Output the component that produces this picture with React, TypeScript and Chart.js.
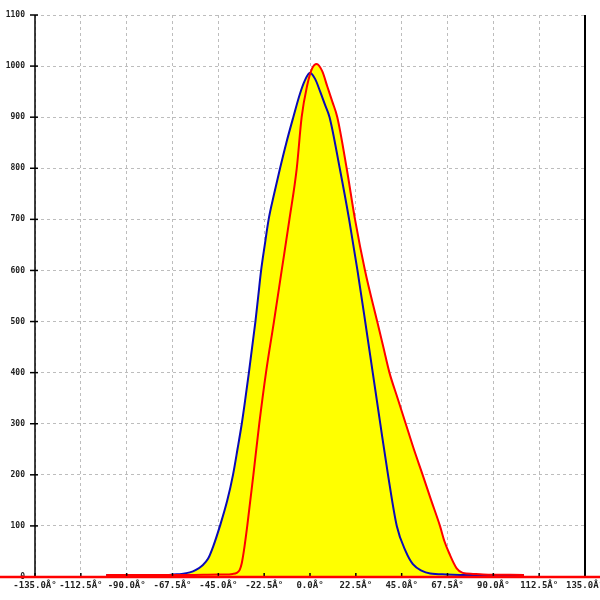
import React, { useEffect, useRef } from "react";
import { Chart, registerables } from "chart.js";

Chart.register(...registerables);

const xTickValues = [-135, -112.5, -90, -67.5, -45, -22.5, 0, 22.5, 45, 67.5, 90, 112.5, 135];
const yTickValues = [0, 100, 200, 300, 400, 500, 600, 700, 800, 900, 1000, 1100];

const blueX = [-100, -90, -80, -70, -67, -63, -59, -56, -53, -50, -47.5, -44.2, -40.6, -37.8, -35.6, -33.5, -31.7, -30, -28.4, -26.8, -25.4, -24, -22.2, -20.3, -17.6, -14.7, -11.6, -8.2, -5, -2.5, 0, 2.5, 5, 7.3, 9.6, 14.6, 19.2, 23.3, 27.1, 30.8, 34.5, 38.3, 42.6, 47, 50.5, 55, 59, 67, 80, 90, 105];
const blueY = [4, 4, 4, 4, 5, 6, 9, 14, 22, 36, 60, 100, 150, 200, 250, 300, 350, 400, 450, 500, 550, 600, 650, 700, 750, 800, 850, 900, 945, 972, 987, 975, 950, 925, 900, 800, 700, 600, 500, 400, 300, 200, 100, 50, 25, 12, 7, 5, 4, 4, 4];

const redX = [-100, -80, -60, -45, -41.7, -38, -36, -34.5, -33.5, -32.5, -30.8, -27.8, -24.9, -21.6, -17.7, -13.9, -10.1, -6.5, -4.1, -1.5, 1, 3.3, 6, 8.5, 11, 13.4, 18, 22.1, 27, 33, 36, 39, 43, 47, 51, 55.3, 59.5, 63.8, 66, 68.4, 72, 75, 80, 85, 105];
const redY = [4, 4, 4, 5, 5, 6, 8, 14, 27, 50, 100, 200, 300, 400, 500, 600, 700, 800, 900, 960, 995, 1004, 990, 960, 930, 900, 800, 700, 600, 500, 450, 400, 350, 300, 250, 200, 150, 100, 70, 46, 17, 8, 6, 5, 4];

const tickFont = { family: "'DejaVu Sans Mono', monospace", size: 9, weight: "bold" as const };

export default function App() {
  const ref = useRef<HTMLCanvasElement>(null);
  useEffect(() => {
    if (!ref.current) return;
    const axesPlugin = {
      id: "axesPlugin",
      afterDraw(chart: any) {
        const { ctx, chartArea, scales } = chart;
        const xs = scales.x;
        const ys = scales.y;
        const y0 = ys.getPixelForValue(0);
        ctx.save();
        ctx.strokeStyle = "#000";
        ctx.lineWidth = 1.5;
        ctx.beginPath();
        ctx.moveTo(chartArea.left, chartArea.top);
        ctx.lineTo(chartArea.left, chartArea.bottom);
        ctx.stroke();
        ctx.lineWidth = 2;
        ctx.beginPath();
        ctx.moveTo(chartArea.right, chartArea.top);
        ctx.lineTo(chartArea.right, chartArea.bottom);
        ctx.stroke();
        ctx.lineWidth = 1.5;
        for (const v of yTickValues) {
          const p = ys.getPixelForValue(v);
          ctx.beginPath();
          ctx.moveTo(chartArea.left - 5, p);
          ctx.lineTo(chartArea.left + 3, p);
          ctx.stroke();
        }
        for (const v of xTickValues) {
          const p = xs.getPixelForValue(v);
          ctx.beginPath();
          ctx.moveTo(p, y0 - 4);
          ctx.lineTo(p, y0);
          ctx.stroke();
        }
        ctx.strokeStyle = "#ff0000";
        ctx.lineWidth = 2.5;
        ctx.beginPath();
        ctx.moveTo(0, y0);
        ctx.lineTo(chart.width, y0);
        ctx.stroke();
        ctx.restore();
      },
    };
    const chart = new Chart(ref.current, {
      type: "line",
      data: {
        datasets: [
          {
            label: "red",
            data: redX.map((x, i) => ({ x, y: redY[i] })),
            borderColor: "#ff0000",
            borderWidth: 2,
            backgroundColor: "#ffff00",
            fill: "origin",
            pointRadius: 0,
            cubicInterpolationMode: "monotone",
          },
          {
            label: "blue",
            data: blueX.map((x, i) => ({ x, y: blueY[i] })),
            borderColor: "#0a0ab8",
            borderWidth: 2,
            backgroundColor: "#ffff00",
            fill: "origin",
            pointRadius: 0,
            cubicInterpolationMode: "monotone",
          },
        ],
      },
      options: {
        animation: false,
        responsive: false,
        devicePixelRatio: 1,
        layout: { padding: { left: 30, right: 45, top: 15, bottom: 0 } },
        plugins: {
          legend: { display: false },
          tooltip: { enabled: false },
          filler: { drawTime: "beforeDatasetsDraw" } as any,
        },
        scales: {
          x: {
            type: "linear",
            min: -135,
            max: 135,
            afterBuildTicks: (s: any) => {
              s.ticks = xTickValues.map((v) => ({ value: v }));
            },
            afterFit: (s: any) => {
              s.height = 23;
            },
            ticks: {
              autoSkip: false,
              maxRotation: 0,
              padding: 3,
              color: "#222",
              font: tickFont,
              callback: (v: any) => `${Number(v).toFixed(1)}Â°`,
            },
            grid: { color: "#bdbdbd", lineWidth: 1, drawTicks: false },
            border: { display: false, dash: [3, 3] },
          },
          y: {
            type: "linear",
            min: 0,
            max: 1100,
            afterBuildTicks: (s: any) => {
              s.ticks = yTickValues.map((v) => ({ value: v }));
            },
            afterFit: (s: any) => {
              s.width = 35;
            },
            ticks: {
              autoSkip: false,
              padding: 10,
              color: "#222",
              font: { ...tickFont, size: 8 },
              callback: (v: any) => `${v}`,
            },
            grid: { color: "#bdbdbd", lineWidth: 1, drawTicks: false },
            border: { display: false, dash: [3, 3] },
          },
        },
      },
      plugins: [axesPlugin],
    });
    return () => chart.destroy();
  }, []);
  return (
    <div style={{ position: "fixed", left: 0, top: 0, width: 600, height: 600, overflow: "hidden", background: "#fff" }}>
      <canvas ref={ref} width={660} height={600} style={{ position: "absolute", left: -30, top: 0, width: 660, height: 600 }} />
    </div>
  );
}
